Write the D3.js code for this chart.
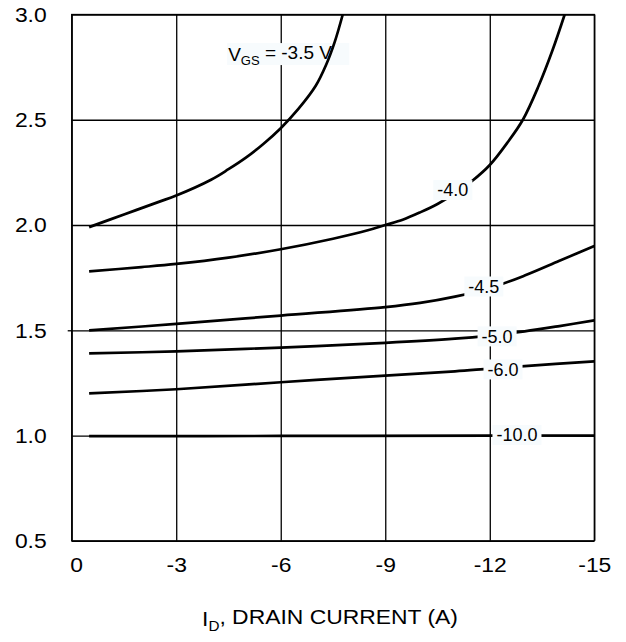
<!DOCTYPE html>
<html>
<head>
<meta charset="utf-8">
<script src="https://cdn.jsdelivr.net/npm/d3@7"></script>
<style>
  html, body { margin: 0; padding: 0; background: #fff; }
  svg { display: block; font-family: "Liberation Sans", Arial, sans-serif; }
</style>
</head>
<body>
<svg id="chart" width="626" height="642"></svg>
<script>
// ---- data ----
const xTicks = [0, -3, -6, -9, -12, -15];
const xTickLabels = ["0", "-3", "-6", "-9", "-12", "-15"];
const yTicks = [0.5, 1.0, 1.5, 2.0, 2.5, 3.0];
const yTickLabels = ["0.5", "1.0", "1.5", "2.0", "2.5", "3.0"];
const xTitle = "DRAIN CURRENT (A)";

// each curve: [I_D (A), V]
const vgs35 = [[-0.5,1.99],[-1.5,2.05],[-2.5,2.11],[-3,2.14],[-4,2.215],[-4.5,2.265],[-5,2.32],[-5.5,2.385],[-6,2.46],[-6.5,2.55],[-7,2.66],[-7.3,2.76],[-7.55,2.87],[-7.78,3.0]];
const vgs40 = [[-0.5,1.78],[-2,1.80],[-3,1.815],[-4.5,1.845],[-6,1.885],[-7.5,1.935],[-8.5,1.975],[-9,2.0],[-9.5,2.025],[-10,2.06],[-10.5,2.10],[-11,2.15],[-11.5,2.21],[-12,2.285],[-12.5,2.39],[-12.95,2.5],[-13.4,2.66],[-13.8,2.83],[-14.15,3.0]];
const vgs45 = [[-0.5,1.50],[-3,1.53],[-6,1.57],[-9,1.61],[-10,1.63],[-11,1.66],[-12,1.70],[-13,1.76],[-14,1.83],[-15,1.90]];
const vgs50 = [[-0.5,1.39],[-3,1.40],[-6,1.418],[-9,1.44],[-11,1.46],[-12,1.475],[-13,1.495],[-14,1.52],[-15,1.547]];
const vgs60 = [[-0.5,1.20],[-3,1.22],[-6,1.253],[-9,1.285],[-11,1.305],[-12,1.318],[-13,1.33],[-15,1.352]];
const vgs100 = [[-0.5,0.997],[-6,0.998],[-12,1.0],[-15,1.0]];
const curves = [vgs35, vgs40, vgs45, vgs50, vgs60, vgs100];

const curveLabels = ["-4.0", "-4.5", "-5.0", "-6.0", "-10.0"];
const curveLabelAt = [[-10.94,2.166],[-11.83,1.708],[-12.21,1.471],[-12.38,1.314],[-12.78,1.003]];
const vgsLabelAt = [-4.49, 2.812];

// ---- layout ----
const svg = d3.select("#chart");
const L = 71.7, R = 594.3, T = 14.5, B = 540.8;
const x = d3.scaleLinear().domain([0, -15]).range([L, R]);
const y = d3.scaleLinear().domain([0.5, 3.0]).range([B, T]);
const boxFill = "#f7fbfd";
const stretch = 1.09;

// axes + grid
const gx = svg.append("g").attr("transform", `translate(0,${B})`)
  .call(d3.axisBottom(x).tickValues(xTicks).tickSize(-(B - T)).tickPadding(16)
    .tickFormat((d, i) => xTickLabels[i]));
const gy = svg.append("g").attr("transform", `translate(${L},0)`)
  .call(d3.axisLeft(y).tickValues(yTicks).tickSize(-(R - L)).tickPadding(25)
    .tickFormat((d, i) => yTickLabels[i]));
[gx, gy].forEach(g => {
  g.select(".domain").remove();
  g.selectAll(".tick line").attr("stroke", "#000").attr("stroke-width", 1.3);
  g.selectAll(".tick text").attr("fill", "#000").attr("font-size", 21)
    .attr("font-family", "Liberation Sans, Arial, sans-serif");
});
gx.selectAll(".tick text").filter((d) => d === 0).attr("dx", 4);
gx.selectAll(".tick text").attr("transform", `scale(${stretch},1)`);
gy.selectAll(".tick text").attr("transform", `translate(-25,0) scale(${stretch},1) translate(25,0)`);
// small outward tick at 1.5
gy.selectAll(".tick").filter(d => d === 1.5).append("line")
  .attr("x1", -4).attr("x2", 0).attr("stroke", "#000").attr("stroke-width", 1.3);

svg.append("rect").attr("x", L).attr("y", T).attr("width", R - L).attr("height", B - T)
  .attr("fill", "none").attr("stroke", "#000").attr("stroke-width", 1.3);

// V_GS label box (under curves)
const vg = svg.append("g");
const vgsText = vg.append("text")
  .attr("x", x(vgsLabelAt[0])).attr("y", y(vgsLabelAt[1])).attr("dy", "0.35em")
  .attr("font-size", 19).attr("fill", "#000");
vgsText.append("tspan").text("V");
vgsText.append("tspan").attr("font-size", 13).attr("dy", "0.35em").text("GS");
vgsText.append("tspan").attr("dy", "-0.35em").text(" = -3.5 V");
const vb = vgsText.node().getBBox();
vg.insert("rect", "text").attr("x", vb.x - 1).attr("y", y(vgsLabelAt[1]) - 11)
  .attr("width", vb.width + 18).attr("height", 22).attr("fill", boxFill);

// curves
svg.append("clipPath").attr("id", "clip").append("rect")
  .attr("x", L).attr("y", T).attr("width", R - L).attr("height", B - T);
const line = d3.line().x(d => x(d[0])).y(d => y(d[1])).curve(d3.curveCatmullRom.alpha(0.5));
svg.append("g").attr("clip-path", "url(#clip)")
  .selectAll("path").data(curves).join("path")
  .attr("d", line).attr("fill", "none").attr("stroke", "#000")
  .attr("stroke-width", 2.7).attr("stroke-linecap", "butt");

// curve labels with background boxes
const lg = svg.append("g");
curveLabels.forEach((lab, i) => {
  const g = lg.append("g");
  const t = g.append("text")
    .attr("x", x(curveLabelAt[i][0])).attr("y", y(curveLabelAt[i][1])).attr("dy", "0.35em")
    .attr("text-anchor", "middle").attr("font-size", 18).attr("fill", "#000").text(lab);
  const b = t.node().getBBox();
  g.insert("rect", "text").attr("x", b.x - 4).attr("y", y(curveLabelAt[i][1]) - 10)
    .attr("width", b.width + 8).attr("height", 20).attr("fill", boxFill);
});

// x title
const xt = svg.append("text").attr("x", 330).attr("y", 626.5).attr("text-anchor", "middle")
  .attr("font-size", 21).attr("fill", "#000")
  .attr("transform", `translate(330,0) scale(${stretch},1) translate(-330,0)`);
xt.append("tspan").text("I");
xt.append("tspan").attr("font-size", 14).attr("dy", "0.3em").text("D");
xt.append("tspan").attr("dy", "-0.3em").text(", " + xTitle);
</script>
</body>
</html>
